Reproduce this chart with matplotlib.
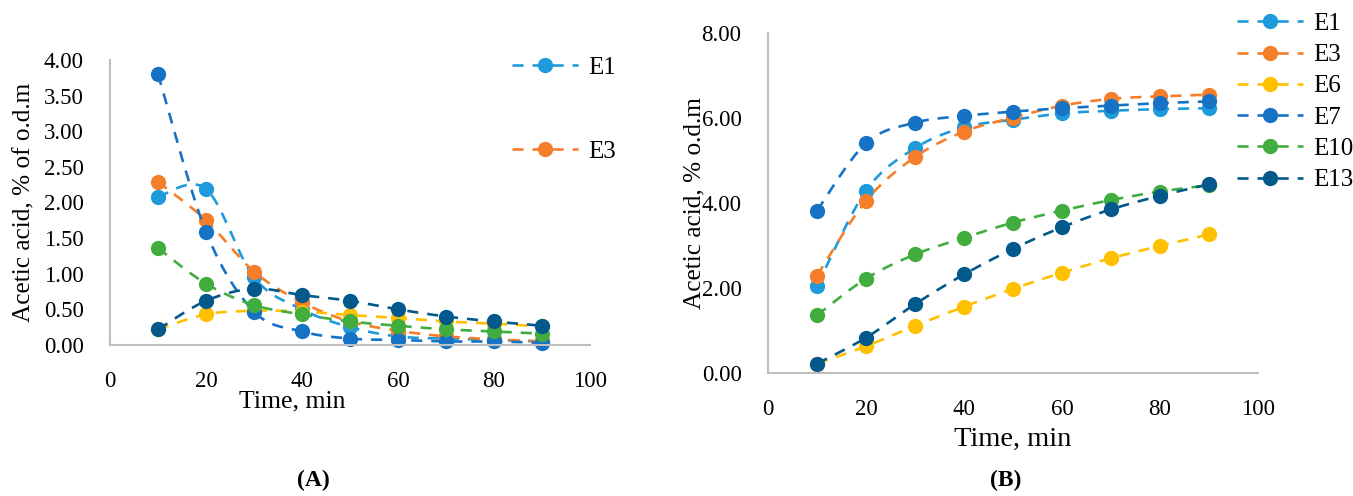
import numpy as np
import matplotlib
matplotlib.use("Agg")
import matplotlib.pyplot as plt
from matplotlib.lines import Line2D

plt.rcParams["font.family"] = ["Liberation Serif", "DejaVu Serif"]

# sampling times, min
time_min = [10, 20, 30, 40, 50, 60, 70, 80, 90]

series_names = ["E1", "E3", "E6", "E7", "E10", "E13"]
series_colors = ["#1F9BDB", "#F57E2B", "#FFC000", "#1672C4", "#41AD3F", "#03588C"]

# (A) acetic acid, % of o.d.m
a_E1 = [2.08, 2.19, 0.95, 0.50, 0.25, 0.12, 0.09, 0.07, 0.05]
a_E3 = [2.29, 1.75, 1.03, 0.60, 0.33, 0.20, 0.12, 0.08, 0.05]
a_E6 = [0.22, 0.43, 0.48, 0.47, 0.42, 0.38, 0.33, 0.30, 0.26]
a_E7 = [3.80, 1.59, 0.47, 0.19, 0.09, 0.07, 0.05, 0.05, 0.03]
a_E10 = [1.36, 0.86, 0.56, 0.43, 0.33, 0.27, 0.22, 0.19, 0.16]
a_E13 = [0.22, 0.62, 0.79, 0.70, 0.62, 0.50, 0.40, 0.33, 0.27]

# (B) acetic acid, % o.d.m
b_E1 = [2.05, 4.29, 5.29, 5.78, 5.96, 6.11, 6.17, 6.21, 6.23]
b_E3 = [2.29, 4.05, 5.08, 5.68, 6.01, 6.29, 6.45, 6.51, 6.55]
b_E6 = [0.22, 0.63, 1.11, 1.56, 1.98, 2.36, 2.70, 2.99, 3.26]
b_E7 = [3.82, 5.41, 5.89, 6.05, 6.15, 6.23, 6.29, 6.35, 6.39]
b_E10 = [1.36, 2.22, 2.79, 3.18, 3.54, 3.82, 4.07, 4.27, 4.42]
b_E13 = [0.22, 0.83, 1.62, 2.32, 2.92, 3.43, 3.85, 4.17, 4.44]

panel_a = [a_E1, a_E3, a_E6, a_E7, a_E10, a_E13]
panel_b = [b_E1, b_E3, b_E6, b_E7, b_E10, b_E13]

x_ticks = [0, 20, 40, 60, 80, 100]
a_y_ticks = [0.0, 0.5, 1.0, 1.5, 2.0, 2.5, 3.0, 3.5, 4.0]
b_y_ticks = [0.0, 2.0, 4.0, 6.0, 8.0]

DASH = (0, (4.2, 3.4))
LW = 1.9
MS = 11
GRAY = "#BFBFBF"
W, H = 1353, 496


def smooth_path(x, y, steps=24):
    """Catmull-Rom style cubic Bezier through the given points (smoothed line)."""
    x = np.asarray(x, float)
    y = np.asarray(y, float)
    px = np.concatenate([[x[0]], x, [x[-1]]])
    py = np.concatenate([[y[0]], y, [y[-1]]])
    t = np.linspace(0, 1, steps)[:, None]
    xs, ys = [], []
    for i in range(1, len(px) - 2):
        p0 = np.array([px[i], py[i]])
        p3 = np.array([px[i + 1], py[i + 1]])
        p1 = p0 + (p3 - np.array([px[i - 1], py[i - 1]])) / 6.0
        p2 = p3 - (np.array([px[i + 2], py[i + 2]]) - p0) / 6.0
        pts = ((1 - t) ** 3) * p0 + 3 * ((1 - t) ** 2) * t * p1 + 3 * (1 - t) * t ** 2 * p2 + t ** 3 * p3
        xs.append(pts[:, 0])
        ys.append(pts[:, 1])
    return np.concatenate(xs), np.concatenate(ys)


def draw_series(ax, values):
    for vals, color in zip(values, series_colors):
        sx, sy = smooth_path(time_min, vals)
        ax.plot(sx, sy, color=color, lw=LW, linestyle=DASH, clip_on=False)
        ax.plot(time_min, vals, linestyle="none", marker="o", ms=MS,
                color=color, markeredgewidth=0, clip_on=False)


def style_axes(ax):
    for side in ("top", "right"):
        ax.spines[side].set_visible(False)
    for side in ("left", "bottom"):
        ax.spines[side].set_color(GRAY)
        ax.spines[side].set_linewidth(1.5)
    ax.tick_params(length=0, labelsize=16.5, pad=19)


def legend_handles():
    return [Line2D([0], [0], color=c, lw=LW, linestyle=DASH, marker="o",
                   ms=MS, markeredgewidth=0) for c in series_colors]


fig = plt.figure(figsize=(W / 100, H / 100), dpi=100)

# panel A
axA = fig.add_axes([110 / W, 1 - 345 / H, 480 / W, 285 / H])
draw_series(axA, panel_a)
axA.set_xlim(0, 100)
axA.set_ylim(0, 4)
axA.set_xticks(x_ticks)
axA.set_yticks(a_y_ticks)
axA.set_yticklabels([f"{v:.2f}" for v in a_y_ticks])
style_axes(axA)
axA.set_xlabel("Time, min", fontsize=18.5)
axA.xaxis.set_label_coords(0.38, -0.158)
axA.set_ylabel("Acetic acid, % of o.d.m", fontsize=18.2)
axA.yaxis.set_label_coords(-0.155, 0.5)
hA = legend_handles()
fig.legend(hA[:2], series_names[:2], loc="upper left",
           bbox_to_anchor=(512 / W, 1 - 56 / H), frameon=False,
           fontsize=18, handlelength=2.64, handletextpad=0.4,
           labelspacing=2.46, numpoints=1, borderaxespad=0, borderpad=0)
fig.text(313 / W, 1 - 480 / H, "(A)", fontsize=17, fontweight="bold",
         ha="center", va="center")

# panel B
axB = fig.add_axes([768 / W, 1 - 373 / H, 490 / W, 340 / H])
draw_series(axB, panel_b)
axB.set_xlim(0, 100)
axB.set_ylim(0, 8)
axB.set_xticks(x_ticks)
axB.set_yticks(b_y_ticks)
axB.set_yticklabels([f"{v:.2f}" for v in b_y_ticks])
style_axes(axB)
axB.set_xlabel("Time, min", fontsize=20.5)
axB.xaxis.set_label_coords(0.5, -0.16)
axB.set_ylabel("Acetic acid, % o.d.m", fontsize=18.2)
axB.yaxis.set_label_coords(-0.128, 0.5)
fig.legend(legend_handles(), series_names, loc="upper left",
           bbox_to_anchor=(1237 / W, 1 - 12.5 / H), frameon=False,
           fontsize=18, handlelength=2.64, handletextpad=0.4,
           labelspacing=0.35, numpoints=1, borderaxespad=0, borderpad=0)
fig.text(1006 / W, 1 - 480 / H, "(B)", fontsize=17, fontweight="bold",
         ha="center", va="center")

fig.savefig("out.png", dpi=100, facecolor="white")
